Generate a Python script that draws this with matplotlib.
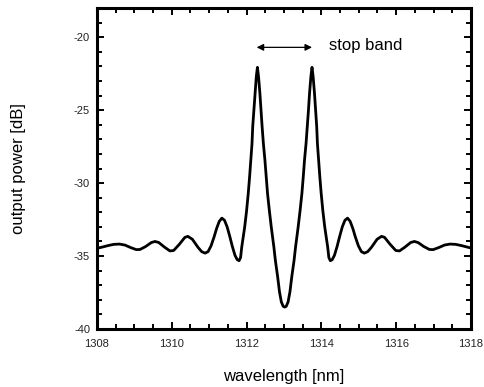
import matplotlib.pyplot as plt
from matplotlib.ticker import MultipleLocator

plt.rcParams['font.family'] = ['Liberation Sans', 'DejaVu Sans']
plt.rcParams['axes.unicode_minus'] = False

# transmission spectrum
wavelength = [
    1308.00, 1308.15, 1308.30, 1308.45, 1308.60, 1308.75, 1308.90, 1309.05,
    1309.15, 1309.30, 1309.45, 1309.55, 1309.65, 1309.80, 1309.95, 1310.05,
    1310.20, 1310.35, 1310.43, 1310.55, 1310.70, 1310.80, 1310.89, 1310.97,
    1311.05, 1311.13, 1311.20, 1311.27, 1311.34, 1311.41, 1311.48, 1311.55,
    1311.62, 1311.69, 1311.75, 1311.80, 1311.84, 1311.87, 1311.91, 1311.95,
    1312.00, 1312.045, 1312.08, 1312.115, 1312.145, 1312.165, 1312.195, 1312.225,
    1312.26, 1312.29, 1312.32, 1312.355, 1312.385, 1312.415, 1312.45, 1312.49,
    1312.525, 1312.56, 1312.61, 1312.66, 1312.73, 1312.77, 1312.83, 1312.88,
    1312.93, 1312.98, 1313.02, 1313.06, 1313.11, 1313.16, 1313.21, 1313.27,
    1313.31, 1313.38, 1313.43, 1313.48, 1313.515, 1313.55, 1313.59, 1313.625,
    1313.655, 1313.685, 1313.72, 1313.75, 1313.78, 1313.815, 1313.845, 1313.875,
    1313.895, 1313.925, 1313.96, 1313.995, 1314.04, 1314.09, 1314.13, 1314.17,
    1314.20, 1314.24, 1314.29, 1314.35, 1314.42, 1314.49, 1314.56, 1314.63,
    1314.70, 1314.77, 1314.84, 1314.91, 1314.99, 1315.07, 1315.15, 1315.24,
    1315.34, 1315.49, 1315.61, 1315.69, 1315.84, 1315.99, 1316.09, 1316.24,
    1316.39, 1316.49, 1316.59, 1316.74, 1316.89, 1316.99, 1317.14, 1317.29,
    1317.44, 1317.59, 1317.74, 1317.89, 1318.00,
]
power_db = [
    -34.47, -34.38, -34.28, -34.20, -34.18, -34.25, -34.42, -34.56,
    -34.55, -34.35, -34.08, -34.00, -34.07, -34.38, -34.65, -34.62,
    -34.20, -33.72, -33.65, -33.85, -34.40, -34.70, -34.80, -34.70,
    -34.30, -33.70, -33.10, -32.62, -32.40, -32.55, -33.00, -33.65,
    -34.35, -34.95, -35.25, -35.32, -35.10, -34.40, -33.70, -33.00,
    -31.90, -30.70, -29.60, -28.40, -27.30, -26.10, -25.00, -23.80,
    -22.70, -22.06, -22.70, -23.80, -25.00, -26.10, -27.30, -28.40,
    -29.60, -30.70, -31.90, -33.00, -34.38, -35.30, -36.40, -37.45,
    -38.15, -38.45, -38.50, -38.45, -38.15, -37.45, -36.40, -35.30,
    -34.38, -33.00, -31.90, -30.70, -29.60, -28.40, -27.30, -26.10,
    -25.00, -23.80, -22.70, -22.06, -22.70, -23.80, -25.00, -26.10,
    -27.30, -28.40, -29.60, -30.70, -31.90, -33.00, -33.70, -34.40,
    -35.10, -35.32, -35.25, -34.95, -34.35, -33.65, -33.00, -32.55,
    -32.40, -32.62, -33.10, -33.70, -34.30, -34.70, -34.80, -34.70,
    -34.40, -33.85, -33.65, -33.72, -34.20, -34.62, -34.65, -34.38,
    -34.07, -34.00, -34.08, -34.35, -34.55, -34.56, -34.42, -34.25,
    -34.18, -34.20, -34.28, -34.38, -34.45,
]

band_edges = [1312.27, 1313.75]
band_level = -20.69

fig = plt.figure(figsize=(4.85, 3.87), dpi=100)
ax = fig.add_axes([0.2, 0.15, 0.771, 0.829])

ax.plot(wavelength, power_db, color='black', lw=2.0)

ax.annotate('', xy=(band_edges[0], band_level), xytext=(band_edges[1], band_level),
            arrowprops=dict(arrowstyle='<|-|>', color='black', lw=0.9,
                            mutation_scale=10, shrinkA=0, shrinkB=0))
ax.text(1314.2, -20.57, 'stop band', fontsize=12, va='center', ha='left')

ax.set_xlim(1308, 1318)
ax.set_ylim(-40, -18)
ax.xaxis.set_major_locator(MultipleLocator(2))
ax.xaxis.set_minor_locator(MultipleLocator(0.5))
ax.yaxis.set_major_locator(MultipleLocator(5))
ax.yaxis.set_minor_locator(MultipleLocator(1))
ax.set_yticks([-40, -35, -30, -25, -20])

ax.tick_params(which='both', direction='in', top=True, right=True, width=1.4,
               labelsize=8, labelcolor='#222222')
ax.tick_params(axis='x', pad=7)
ax.tick_params(axis='y', pad=5)
ax.tick_params(which='major', length=5)
ax.tick_params(which='minor', length=3.5)
for s in ax.spines.values():
    s.set_linewidth(2.2)

ax.set_xlabel('wavelength [nm]', fontsize=12)
ax.set_ylabel('output power [dB]', fontsize=12)
ax.xaxis.set_label_coords(0.5, -0.125)
ax.yaxis.set_label_coords(-0.19, 0.5)

plt.savefig('out.png', dpi=100)
